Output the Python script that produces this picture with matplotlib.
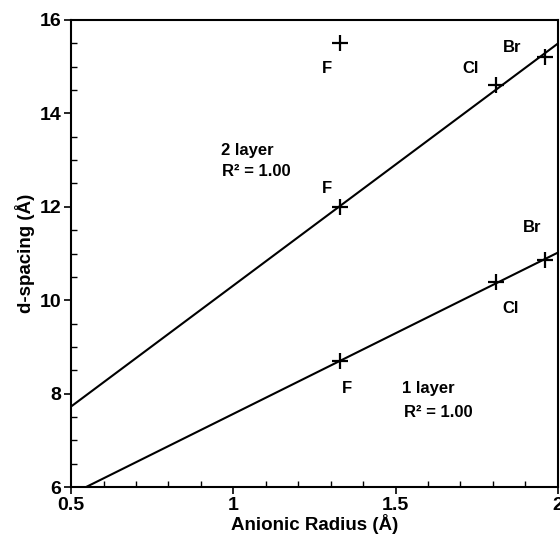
import numpy as np
import matplotlib
matplotlib.use("Agg")
import matplotlib.pyplot as plt
from matplotlib.ticker import MultipleLocator

plt.rcParams['font.family'] = ['Liberation Sans', 'DejaVu Sans']
plt.rcParams['font.weight'] = 'bold'

# anionic radius (A) for F, Cl, Br
radius = [1.33, 1.81, 1.96]
anions = ["F", "Cl", "Br"]
# d-spacing (A)
two_layer = [12.0, 14.61, 15.21]
one_layer = [8.70, 10.39, 10.86]
# the extra F point not on the fit
outlier_x = [1.33]
outlier_y = [15.5]

fig = plt.figure(figsize=(5.6, 5.4), dpi=100)
ax = fig.add_axes([0.127, 0.098, 0.869, 0.865])

xfit = np.array([0.5, 2.0])
for ys in (two_layer, one_layer):
    k, b = np.polyfit(radius, ys, 1)
    ax.plot(xfit, k * xfit + b, color='black', lw=1.5)
    ax.plot(radius, ys, ls='none', marker='+', ms=12, mew=1.6, color='black')
ax.plot(outlier_x, outlier_y, ls='none', marker='+', ms=12, mew=1.6, color='black')

lab = dict(fontsize=12, fontweight='bold', ha='center', va='center')
ax.text(1.29, 14.97, "F", **lab)
ax.text(1.73, 14.97, "Cl", **lab)
ax.text(1.86, 15.42, "Br", **lab)
ax.text(1.29, 12.4, "F", **lab)
ax.text(1.92, 11.55, "Br", **lab)
ax.text(1.855, 9.83, "Cl", **lab)
ax.text(1.35, 8.12, "F", **lab)

ax.text(1.043, 13.2, "2 layer", **lab)
ax.text(1.07, 12.75, "R² = 1.00", **lab)
ax.text(1.60, 8.12, "1 layer", **lab)
ax.text(1.633, 7.6, "R² = 1.00", **lab)

ax.set_xlim(0.5, 2)
ax.set_ylim(6, 16)
ax.xaxis.set_minor_locator(MultipleLocator(0.1))
ax.yaxis.set_major_locator(MultipleLocator(2))
ax.yaxis.set_minor_locator(MultipleLocator(0.5))
ax.set_xticks([0.5, 1, 1.5, 2])
ax.set_xticklabels(["0.5", "1", "1.5", "2"])
ax.tick_params(which='major', direction='out', length=5, width=1.2, labelsize=14, pad=2)
ax.tick_params(which='minor', direction='in', length=4, width=1)
for s in ax.spines.values():
    s.set_linewidth(1.5)

ax.set_xlabel("Anionic Radius (Å)", fontsize=13.5, fontweight='bold', labelpad=0)
ax.set_ylabel("d-spacing (Å)", fontsize=13.5, fontweight='bold', labelpad=3)

fig.savefig("out.png")
